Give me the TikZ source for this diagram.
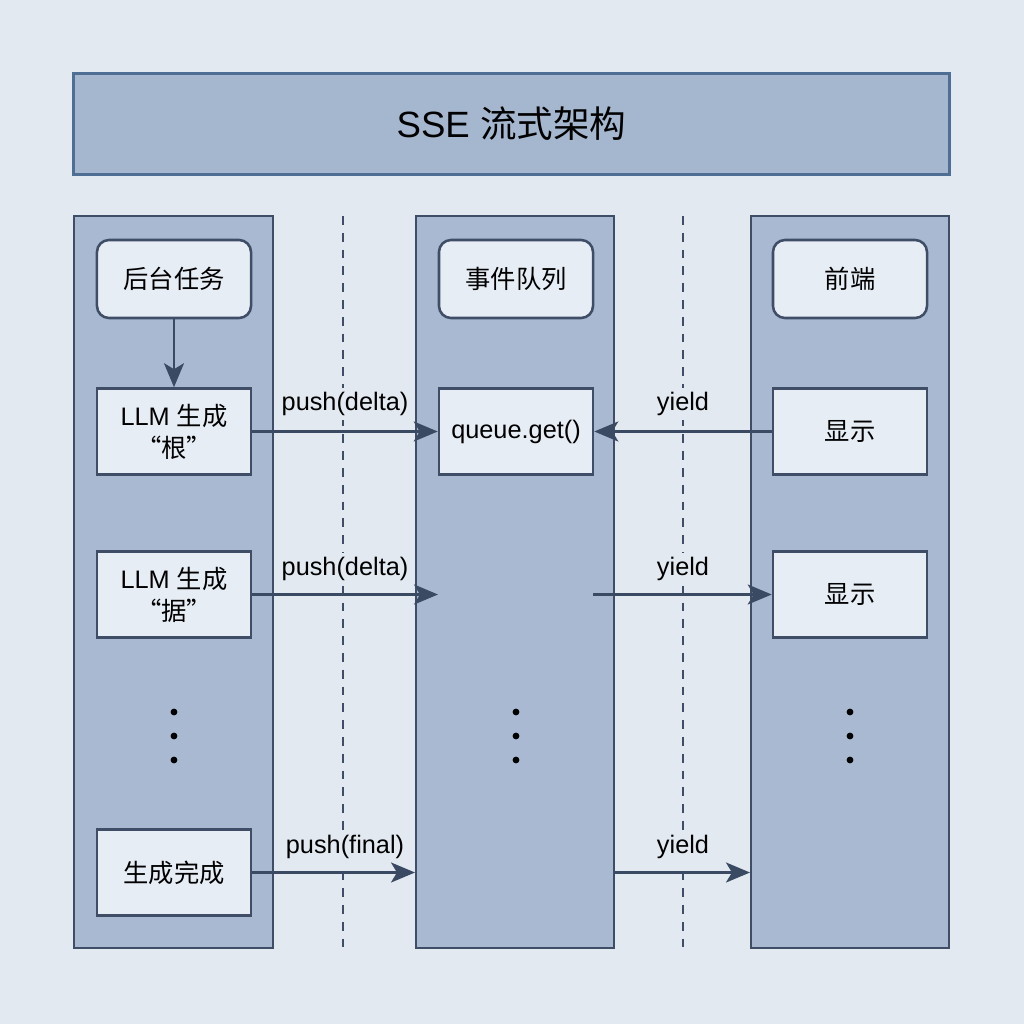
\documentclass[tikz,border=0pt]{standalone}
\usepackage{fontspec}
\setmainfont{Liberation Sans}
\newfontfamily\cjk{Noto Sans CJK SC}
\usetikzlibrary{arrows.meta}
\definecolor{bgc}{HTML}{E3E9F1}
\definecolor{titlefill}{HTML}{A5B7CF}
\definecolor{titleline}{HTML}{4F6E94}
\definecolor{lanefill}{HTML}{A8B9D1}
\definecolor{laneline}{HTML}{3F4E66}
\definecolor{nodefill}{HTML}{E7EDF5}
\definecolor{arrowc}{HTML}{3A4A63}
\begin{document}
\begin{tikzpicture}[x=0.025cm,y=-0.025cm,
  lane/.style={draw=laneline,fill=lanefill,line width=1.9pt},
  procbox/.style={draw=laneline,fill=nodefill,line width=1.8pt,minimum width=3.85cm,minimum height=2.15cm,inner sep=0pt,align=center,font=\fontsize{18}{22.7}\selectfont},
  headbox/.style={procbox,rounded corners=0.3cm,minimum height=1.95cm},
  flow/.style={draw=arrowc,line width=1.8pt,-{Stealth[length=0.6cm,width=0.5cm,inset=0.15cm]}},
  lbl/.style={font=\fontsize{18}{22}\selectfont,text=black,fill=bgc,inner xsep=1pt,inner ysep=3pt},
  sep/.style={draw=laneline,line width=1.2pt,dash pattern=on 0.22cm off 0.2cm},
  dot/.style={circle,fill=black,inner sep=0pt,minimum size=0.17cm}]
\useasboundingbox (0,0) rectangle (1024,1024);
\fill[bgc] (0,0) rectangle (1024,1024);
% title
\node[draw=titleline,fill=titlefill,line width=2.6pt,minimum width=21.9cm,minimum height=2.52cm,inner sep=0pt,font=\fontsize{26}{30}\selectfont] (title) at (511.5,124) {SSE {\cjk 流式架构}};
% lanes
\draw[lane] (74,216) rectangle (273,948);
\draw[lane] (416,216) rectangle (614,948);
\draw[lane] (751,216) rectangle (949,948);
% dashed separators
\draw[sep] (343,216) -- (343,948);
\draw[sep] (683,216) -- (683,948);
% left column
\node[headbox] (task) at (174,279) {\cjk 后台任务};
\node[procbox] (gen1) at (174,431.5) {LLM {\cjk 生成}\\{\cjk “根”}};
\node[procbox] (gen2) at (174,594.5) {LLM {\cjk 生成}\\{\cjk “据”}};
\node[procbox] (done) at (174,872.5) {\cjk 生成完成};
% middle column
\node[headbox] (queue) at (516,279) {\cjk 事件队列};
\node[procbox] (get) at (516,431.5) {queue.get()};
% right column
\node[headbox] (front) at (850,279) {\cjk 前端};
\node[procbox] (show1) at (850,431.5) {\cjk 显示};
\node[procbox] (show2) at (850,594.5) {\cjk 显示};
% dots
\foreach \xx/\nm in {174/l,516/m,850/r}{
  \node[dot] (\nm1) at (\xx,712) {};
  \node[dot] (\nm2) at (\xx,736) {};
  \node[dot] (\nm3) at (\xx,760) {};
}
% labels (drawn before arrows, masking the dashed line)
\node[lbl] (l1) at (345,404) {push(delta)};
\node[lbl] (l2) at (683,404) {yield};
\node[lbl] (l3) at (345,569) {push(delta)};
\node[lbl] (l4) at (683,569) {yield};
\node[lbl] (l5) at (345,847) {push(final)};
\node[lbl] (l6) at (683,847) {yield};
% coordinates for free ends
\coordinate (q2in) at (438,594.5);
\coordinate (q2out) at (593,594.5);
\coordinate (mlane3in) at (415,872.5);
\coordinate (mlane3out) at (614,872.5);
\coordinate (rlane3in) at (750,872.5);
% arrows
\draw[flow] (task.south) -- (gen1.north);
\draw[flow] (gen1.east) -- (get.west);
\draw[flow] (show1.west) -- (get.east);
\draw[flow] (gen2.east) -- (q2in);
\draw[flow] (q2out) -- (show2.west);
\draw[flow] (done.east) -- (mlane3in);
\draw[flow] (mlane3out) -- (rlane3in);
\end{tikzpicture}
\end{document}
